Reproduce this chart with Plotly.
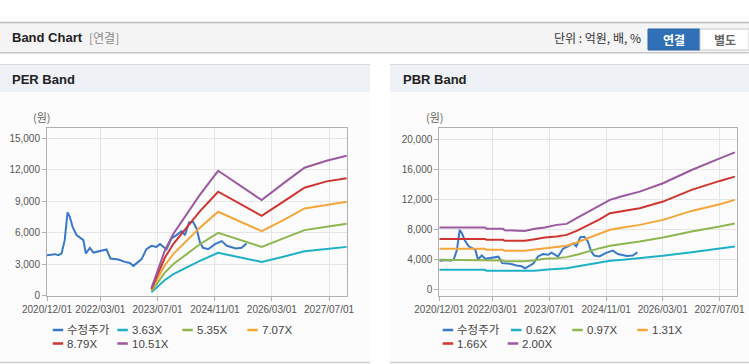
import plotly.graph_objects as go

W, H = 749, 364

# ---------------- data ----------------
price_dates = ["2020-12-01", "2021-02-07", "2021-03-07", "2021-04-04", "2021-05-01", "2021-05-25",
               "2021-06-13", "2021-07-07", "2021-08-10", "2021-09-22", "2021-10-07", "2021-10-28",
               "2021-12-01", "2022-01-01", "2022-02-25", "2022-04-22", "2022-05-25", "2022-08-01",
               "2022-09-25", "2022-11-07", "2022-12-07", "2023-01-19", "2023-02-15", "2023-03-28",
               "2023-05-10", "2023-06-22", "2023-07-22", "2023-09-15", "2023-10-28", "2023-12-10",
               "2024-01-22", "2024-02-19", "2024-03-25", "2024-04-28", "2024-05-28", "2024-06-25",
               "2024-07-22", "2024-09-04", "2024-11-01", "2024-12-28", "2025-02-10", "2025-04-28",
               "2025-06-16", "2025-07-28"]
price_vals = [3850, 3945, 3850, 4010, 5280, 7930,
              7510, 6550, 5760, 5450, 5280, 4010,
              4550, 4100, 4230, 4390, 3530, 3440,
              3210, 3110, 2830, 3280, 3470, 4420,
              4740, 4640, 4920, 4400, 5450, 5760,
              6140, 5760, 6970, 7030, 6400, 5120,
              4550, 4420, 4900, 5190, 4740, 4490,
              4550, 4970]

per_dates = ["2023-05-10", "2023-09-01", "2023-11-13", "2024-03-04", "2024-06-25", "2024-11-28",
             "2025-12-04", "2026-06-07", "2026-12-04", "2027-06-10", "2027-11-28"]
per_labels = ["3.63X", "5.35X", "7.07X", "8.79X", "10.51X"]
per_363 = [300, 1480, 2040, 2690, 3310, 4070, 3210, 3700, 4230, 4440, 4640]
per_535 = [420, 2190, 3000, 3970, 4890, 5980, 4640, 5450, 6240, 6550, 6840]
per_707 = [540, 2890, 3970, 5250, 6460, 7990, 6140, 7200, 8310, 8630, 8940]
per_879 = [620, 3600, 4930, 6520, 8030, 9900, 7600, 8950, 10280, 10890, 11180]
per_1051 = [700, 4300, 5900, 7800, 9600, 11900, 9100, 10700, 12190, 12860, 13340]

pbr_dates = ["2020-12-01", "2021-12-28", "2022-01-10", "2022-06-01", "2022-06-15", "2022-10-20",
             "2022-12-04", "2023-03-01", "2023-05-25", "2023-09-04", "2023-11-28", "2024-02-22",
             "2024-06-16", "2024-09-10", "2024-12-04", "2025-03-25", "2025-08-16", "2026-03-04",
             "2026-11-04", "2027-07-04", "2027-11-10"]
pbr_labels = ["0.62X", "0.97X", "1.31X", "1.66X", "2.00X"]
pbr_062 = [2650, 2650, 2520, 2520, 2520, 2520, 2520, 2520, 2650, 2740, 2870, 3090,
           3400, 3620, 3840, 3970, 4190, 4500, 4990, 5430, 5740]
pbr_097 = [3970, 3970, 3880, 3880, 3800, 3800, 3800, 3920, 4100, 4190, 4330, 4640,
           5170, 5520, 5830, 6050, 6400, 6930, 7720, 8380, 8780]
pbr_131 = [5430, 5430, 5300, 5300, 5170, 5170, 5170, 5350, 5520, 5650, 5830, 6270,
           6970, 7500, 7950, 8250, 8610, 9270, 10460, 11350, 11920]
pbr_166 = [6750, 6750, 6620, 6620, 6490, 6490, 6490, 6700, 6930, 7060, 7280, 7810,
           8700, 9360, 10150, 10460, 10820, 11700, 13250, 14440, 15010]
pbr_200 = [8250, 8250, 8080, 8080, 7900, 7900, 7810, 8080, 8250, 8610, 8740, 9490,
           10460, 11260, 11920, 12450, 13020, 14130, 15890, 17440, 18230]

tick_dates = ["2020-12-01", "2022-03-01", "2023-07-01", "2024-11-01", "2026-03-01", "2027-07-01"]
tick_text = ["2020/12/01", "2022/03/01", "2023/07/01", "2024/11/01", "2026/03/01", "2027/07/01"]
per_yticks = [0, 3000, 6000, 9000, 12000, 15000]
pbr_yticks = [0, 4000, 8000, 12000, 16000, 20000]

price_name = "수정주가"
C_PRICE = "#3a78c8"
BAND_COLORS = ["#1eb1c6", "#8fb651", "#f5a63b", "#cf3530", "#9b599f"]

FONT = "Liberation Sans, Noto Sans CJK KR, sans-serif"
KFONT = "Noto Sans CJK KR, Liberation Sans, sans-serif"


def px(x):
    return x / W


def py(y):
    return 1 - y / H


fig = go.Figure()

fig.add_trace(go.Scatter(x=price_dates, y=price_vals, mode="lines", name=price_name,
                         line=dict(color=C_PRICE, width=2), xaxis="x", yaxis="y", showlegend=False))
for lab, vals, col in zip(per_labels, [per_363, per_535, per_707, per_879, per_1051], BAND_COLORS):
    fig.add_trace(go.Scatter(x=per_dates, y=vals, mode="lines", name=lab,
                             line=dict(color=col, width=2), xaxis="x", yaxis="y", showlegend=False))

fig.add_trace(go.Scatter(x=price_dates, y=price_vals, mode="lines", name=price_name,
                         line=dict(color=C_PRICE, width=2), xaxis="x2", yaxis="y2", showlegend=False))
for lab, vals, col in zip(pbr_labels, [pbr_062, pbr_097, pbr_131, pbr_166, pbr_200], BAND_COLORS):
    fig.add_trace(go.Scatter(x=pbr_dates, y=vals, mode="lines", name=lab,
                             line=dict(color=col, width=2), xaxis="x2", yaxis="y2", showlegend=False))

axis_common = dict(showline=True, mirror=True, linecolor="#b0b0b0", linewidth=1,
                   showgrid=True, gridcolor="#e6e6e6", gridwidth=1, zeroline=False,
                   ticks="outside", ticklen=4, tickcolor="#b0b0b0", tickangle=0,
                   automargin=False,
                   tickfont=dict(family=FONT, size=10, color="#555555"))

xax = dict(axis_common, type="date", range=["2020-12-01", "2027-12-01"],
           tickmode="array", tickvals=tick_dates, ticktext=tick_text)

y_top, y_bot = 128.3, 295.5
fig.update_layout(
    width=W, height=H,
    margin=dict(l=0, r=0, t=0, b=0),
    paper_bgcolor="white", plot_bgcolor="white",
    xaxis=dict(xax, domain=[px(47), px(347)], anchor="y"),
    yaxis=dict(axis_common, domain=[py(y_bot), py(y_top)], range=[0, 15955], anchor="x",
               tickmode="array", tickvals=per_yticks, tickformat=",d"),
    xaxis2=dict(xax, domain=[px(439.3), px(737.3)], anchor="y2"),
    yaxis2=dict(axis_common, domain=[py(y_bot), py(y_top)], range=[-760, 21420], anchor="x2",
                tickmode="array", tickvals=pbr_yticks, tickformat=",d"),
    showlegend=False,
    hovermode=False,
)

shapes = []


def rect(x0, y0, x1, y1, fill, line=None, lw=0):
    shapes.append(dict(type="rect", xref="paper", yref="paper", x0=px(x0), x1=px(x1),
                       y0=py(y1), y1=py(y0), fillcolor=fill,
                       line=dict(color=line or fill, width=lw), layer="below"))


def hline(x0, x1, y, color, w=1):
    shapes.append(dict(type="line", xref="paper", yref="paper", x0=px(x0), x1=px(x1),
                       y0=py(y), y1=py(y), line=dict(color=color, width=w), layer="below"))


# top header
rect(0, 22, 749, 52, "#f4f4f4")
hline(0, 749, 22.5, "#bdbdbd", 1.5)
hline(0, 749, 52.5, "#c8c8c8", 1)
hline(0, 749, 53.5, "#e4e4e4", 1)
# buttons
rect(648, 29, 700, 50, "#2f70b6", "#2a64a4", 1)
rect(700, 29, 749, 50, "#ffffff", "#c9c9c9", 1)

# panels
for x0, x1 in [(0, 370), (390, 749)]:
    rect(x0, 64, x1, 92, "#eef1f6")
    hline(x0, x1, 64.5, "#d8d8d8", 1)
    rect(x0, 92, x1, 362, "#fcfcfc")
    hline(x0, x1, 362.5, "#d0d0d0", 1.5)

annotations = []


def text(x, y, s, size=11, color="#333", xanchor="left", family=KFONT):
    annotations.append(dict(xref="paper", yref="paper", x=px(x), y=py(y), text=s,
                            showarrow=False, xanchor=xanchor, yanchor="middle",
                            font=dict(family=family, size=size, color=color)))


text(10, 38, "<b>Band Chart</b>", 13, "#222222", family=FONT)
text(87, 38, "[연결]", 12, "#8a8a8a")
text(552, 38, "단위 : 억원, 배, %", 12, "#333333")
text(674, 39.5, "<b>연결</b>", 12, "#ffffff", "center")
text(724.5, 39.5, "<b>별도</b>", 12, "#666666", "center")
text(10, 79, "<b>PER Band</b>", 13, "#222222", family=FONT)
text(401, 79, "<b>PBR Band</b>", 13, "#222222", family=FONT)
text(42, 117, "(원)", 11, "#666666", "center")
text(435, 117, "(원)", 11, "#666666", "center")

# legends
left_items = [(price_name, C_PRICE, 52.7, 330)] + [
    (lab, col, xx, yy) for lab, col, xx, yy in zip(
        per_labels, BAND_COLORS, [117.3, 182.3, 247.3, 52.7, 117.3], [330, 330, 330, 343.5, 343.5])]
right_items = [(price_name, C_PRICE, 442.7, 330)] + [
    (lab, col, xx, yy) for lab, col, xx, yy in zip(
        pbr_labels, BAND_COLORS, [511, 572.3, 637.3, 442.7, 507.7], [330, 330, 330, 343.5, 343.5])]
for lab, col, xx, yy in left_items + right_items:
    hline(xx, xx + 10.5, yy, col, 2.5)
    text(xx + 12.5, yy, lab, 11.5, "#444444", family=FONT)

fig.update_layout(shapes=shapes, annotations=annotations)

fig.write_html("out.html", config={"displayModeBar": False},
               post_script="document.body.style.margin='0';document.body.style.padding='0';"
                           "document.documentElement.style.overflow='hidden';")
